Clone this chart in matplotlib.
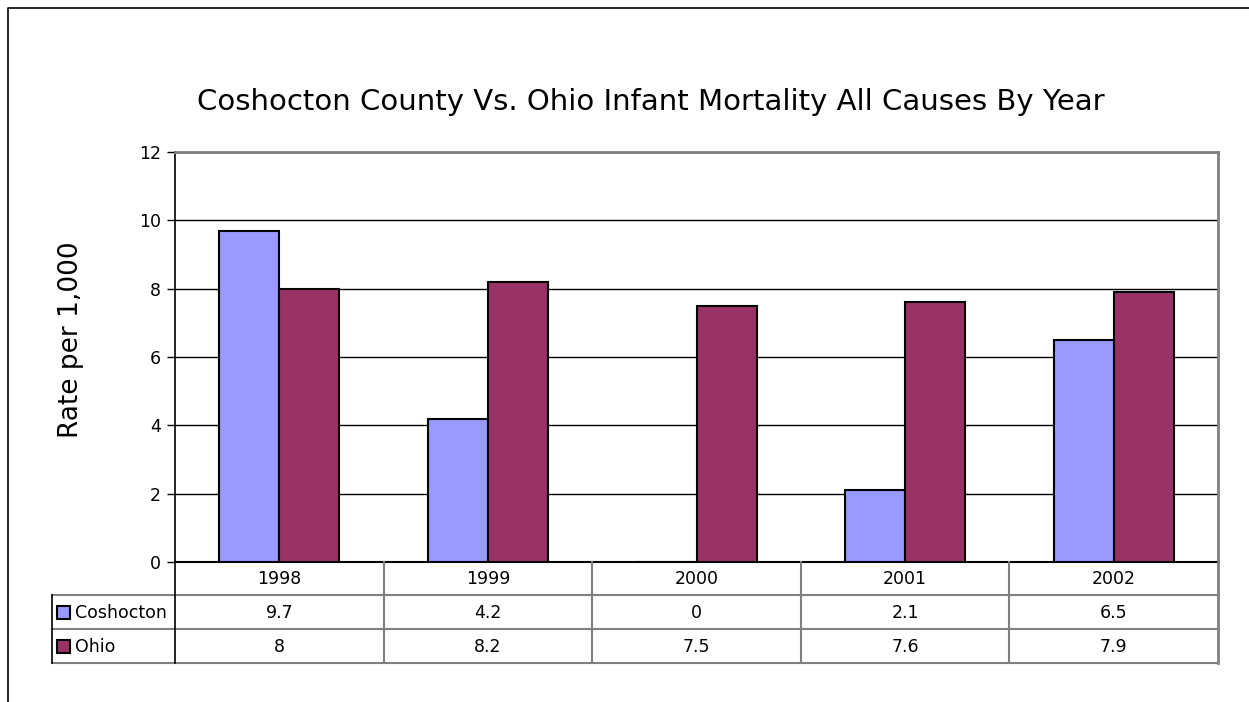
import matplotlib.pyplot as plt
import numpy as np

years = ['1998', '1999', '2000', '2001', '2002']
coshocton = [9.7, 4.2, 0, 2.1, 6.5]
ohio = [8, 8.2, 7.5, 7.6, 7.9]
series_names = ['Coshocton', 'Ohio']
series_colors = ['#9999FF', '#993366']

W, H = 1249, 702
fig = plt.figure(figsize=(W / 100, H / 100), dpi=100)
plt.rcParams['font.family'] = 'DejaVu Sans'


def fx(px):
    return px / W


def fy(py):
    return 1 - py / H


# plot area in pixels
L, R, T, B = 175, 1218, 152, 562
ax = fig.add_axes([fx(L), fy(B), fx(R - L), fy(T) - fy(B)])

x = np.arange(len(years))
bw = 0.288
for vals, off, col in zip([coshocton, ohio], [-bw / 2, bw / 2], series_colors):
    ax.bar(x + off, vals, width=bw, color=col, edgecolor='black', linewidth=1.5, zorder=3)

ax.set_xlim(-0.5, len(years) - 0.5)
ax.set_ylim(0, 12)
ax.set_yticks(range(0, 13, 2))
ax.set_xticks([])
ax.yaxis.grid(True, color='black', linewidth=1, zorder=0)
ax.tick_params(axis='y', length=6, width=1, labelsize=12.5, pad=4, direction='out')
for side in ['top', 'right']:
    ax.spines[side].set_color('#808080')
    ax.spines[side].set_linewidth(2)
ax.spines['left'].set_linewidth(1.2)
ax.spines['bottom'].set_linewidth(1.5)

fig.text(fx(71), fy(340), 'Rate per 1,000', rotation=90, ha='center', va='center', fontsize=19)
fig.text(fx(651), fy(110), 'Coshocton County Vs. Ohio Infant Mortality All Causes By Year',
         ha='center', va='baseline', fontsize=21)

# data table below the plot
TL, TB = 52, 663
rows_y = [562, 595, 629, 663]
tab = fig.add_axes([0, 0, 1, 1])
tab.set_xlim(0, W)
tab.set_ylim(H, 0)
tab.axis('off')
cw = (R - L) / len(years)
gray = '#808080'
# horizontal lines
for yy in rows_y[1:]:
    tab.plot([TL, R], [yy, yy], color=gray, lw=1.5)
# vertical lines
for k in range(1, len(years)):
    tab.plot([L + k * cw] * 2, [rows_y[0], TB], color=gray, lw=1.5)
tab.plot([R, R], [rows_y[0], TB], color=gray, lw=2)
tab.plot([L, L], [rows_y[0], TB], color='black', lw=1.2)
tab.plot([TL, TL], [rows_y[1], TB], color='black', lw=1.2)

for i, yr in enumerate(years):
    cx = L + (i + 0.5) * cw
    tab.text(cx, (rows_y[0] + rows_y[1]) / 2 + 1, yr, ha='center', va='center', fontsize=12.5)
    for r, vals in enumerate([coshocton, ohio]):
        cy = (rows_y[r + 1] + rows_y[r + 2]) / 2 + 1
        tab.text(cx, cy, f'{vals[i]:g}', ha='center', va='center', fontsize=12.5)

for r, (name, col) in enumerate(zip(series_names, series_colors)):
    cy = (rows_y[r + 1] + rows_y[r + 2]) / 2
    tab.add_patch(plt.Rectangle((57, cy - 6), 13, 13, facecolor=col, edgecolor='black', lw=1.5))
    tab.text(75, cy + 1, name, ha='left', va='center', fontsize=12.5)

# chart border
tab.plot([8, 8, W], [H, 8, 8], color='black', lw=1.2)

fig.savefig('out.png', dpi=100)
